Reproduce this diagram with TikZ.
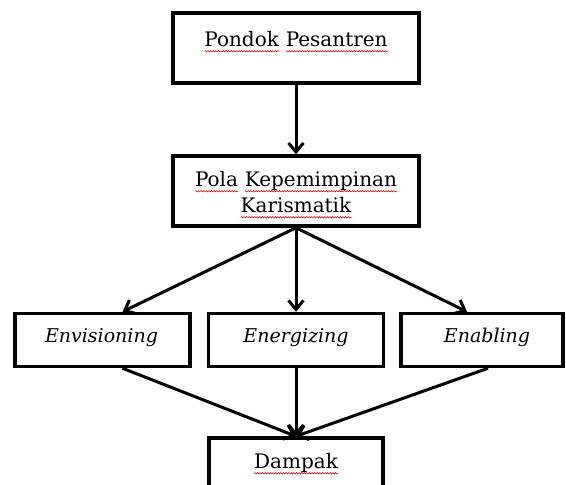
\documentclass[tikz,border=0pt]{standalone}
\usepackage{fontspec}
\setmainfont{DejaVu Serif}
\usetikzlibrary{arrows.meta,calc,decorations.pathmorphing}
\newcommand\sqw[1]{\tikz[baseline=(w.base)]{\node[inner sep=0pt,outer sep=0pt] (w) {#1};
  \draw[red!85!black,line width=0.5pt,decorate,decoration={snake,amplitude=0.7pt,segment length=2.6pt}]
  ([yshift=-5pt]w.base west) -- ([yshift=-5pt]w.base east);}}
\tikzset{
  box/.style={draw=black,line width=3.5pt,rectangle,inner sep=0pt,fill=white},
  arr/.style={line width=3pt,-{Straight Barb[length=9pt,width=15pt,line width=3pt]}},
  lbl/.style={anchor=base,inner sep=0pt,font=\fontsize{20}{24}\selectfont},
  ilbl/.style={lbl,font=\fontsize{19}{23}\selectfont\itshape}
}
\begin{document}
\begin{tikzpicture}[x=1pt,y=-1pt]
\useasboundingbox (0,0) rectangle (566,485);
\clip (0,0) rectangle (566,485);
\fill[white] (0,0) rectangle (566,485);
% boxes
\node[box,minimum width=246pt,minimum height=70pt] (pp) at (296,48) {};
\node[box,minimum width=246pt,minimum height=70pt] (pk) at (296,191) {};
\node[box,minimum width=175pt,minimum height=53pt] (env) at (102.5,340) {};
\node[box,minimum width=175pt,minimum height=53pt] (ene) at (296,340) {};
\node[box,minimum width=162pt,minimum height=53pt] (ena) at (482,340) {};
\node[box,minimum width=174pt,minimum height=82pt] (dam) at (296,479) {};
% texts
\node[lbl] (tpp) at ($(pp.north)+(0,35)$) {\sqw{Pondok} \sqw{Pesantren}};
\node[lbl] (tpk1) at ($(pk.north)+(0,32)$) {\sqw{Pola} \sqw{Kepemimpinan}};
\node[lbl] (tpk2) at ($(pk.north)+(0,58)$) {\sqw{Karismatik}};
\node[ilbl] (tenv) at ($(env.north)+(-1,31)$) {Envisioning};
\node[ilbl] (tene) at ($(ene.north)+(0,31)$) {Energizing};
\node[ilbl] (tena) at ($(ena.north)+(5,31)$) {Enabling};
\node[lbl] (tdam) at ($(dam.north)+(0,32)$) {\sqw{Dampak}};
% connectors
\draw[arr] (pp.south) -- (pk.north);
\draw[arr] (pk.south) -- ($(env.north)+(20,0)$);
\draw[arr] (pk.south) -- (ene.north);
\draw[arr] (pk.south) -- ($(ena.north)+(-15,0)$);
\draw[arr] ($(env.south)+(20,0)$) -- (dam.north);
\draw[arr] (ene.south) -- (dam.north);
\draw[arr] ($(ena.south)+(6,0)$) -- (dam.north);
\end{tikzpicture}
\end{document}
